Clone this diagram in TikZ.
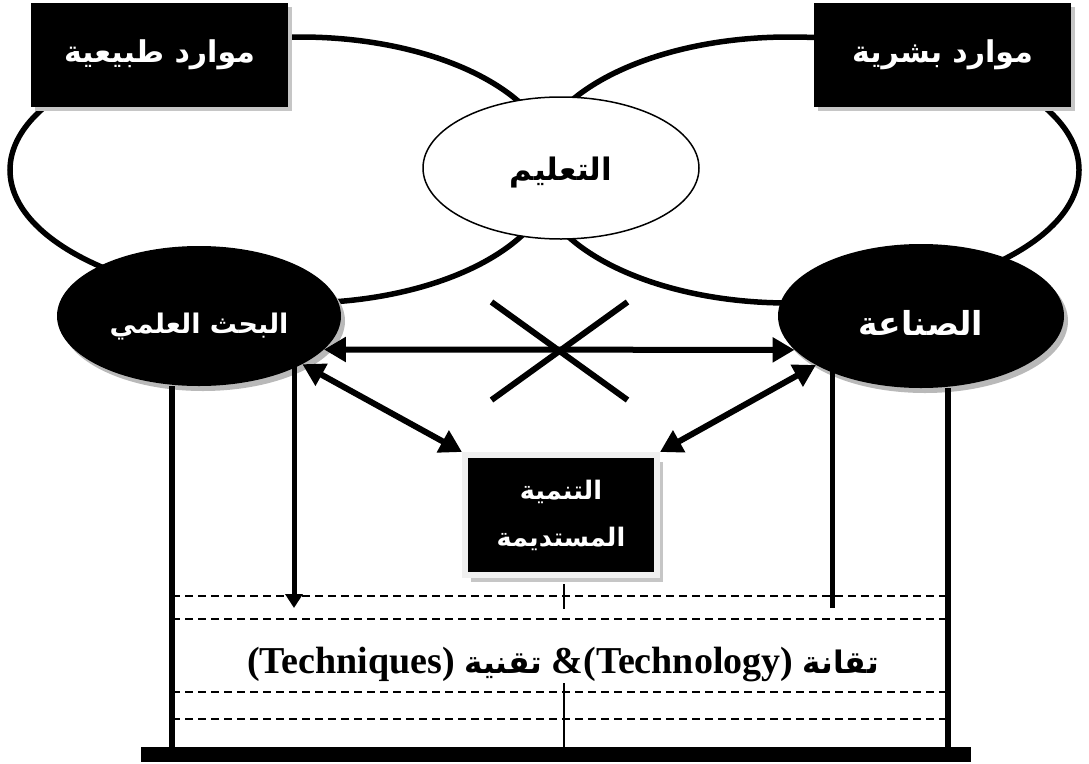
\documentclass[tikz,border=0pt]{standalone}
\usepackage{fontspec}
\setmainfont{Liberation Serif}
\newfontfamily\arfont[Script=Arabic]{DejaVu Sans}
\TeXXeTstate=1
\usetikzlibrary{arrows.meta,shapes.geometric,shadows,calc}

\begin{document}
\begin{tikzpicture}[x=1pt,y=-1pt,
  loopline/.style={line width=5.5pt},
  darkell/.style={ellipse, fill=black, text=white, inner sep=0pt,
    general shadow={fill=gray!55, shadow xshift=4pt, shadow yshift=-5pt}},
  darkbox/.style={rectangle, fill=black, text=white, inner sep=0pt,
    general shadow={fill=gray!45, shadow xshift=4pt, shadow yshift=-4pt}},
  arlabel/.style={font=\arfont\bfseries\fontsize{#1}{#1}\selectfont, align=center},
  arlabel/.default=30,
  biarrow/.style={line width=6pt, {Triangle[length=22pt,width=24pt]}-{Triangle[length=22pt,width=24pt]}},
  onearrow/.style={line width=5pt, -{Triangle[length=14pt,width=17pt]}},
  post/.style={line width=5.5pt},
  crossline/.style={line width=6pt},
  dashline/.style={line width=1.3pt, dash pattern=on 8pt off 5pt},
  hairline/.style={line width=1.2pt}
]
\useasboundingbox (0,0) rectangle (1089,763);

% the two overlapping loops
\draw[loopline] (300,37) arc[start angle=270, end angle=90, x radius=290, y radius=133]
                arc[start angle=90, end angle=-90, x radius=255, y radius=133];
\draw[loopline] (789,37) arc[start angle=270, end angle=450, x radius=290, y radius=133]
                arc[start angle=90, end angle=270, x radius=255, y radius=133];

% centre ellipse
\node[ellipse, draw, line width=1.5pt, fill=white, inner sep=0pt,
      minimum width=276pt, minimum height=142pt, arlabel=31] (edu) at (561,168)
      {\raisebox{-5pt}[\height][\depth]{\beginR التعليم\endR}};

% resource boxes
\node[darkbox, arlabel=30, minimum width=257pt, minimum height=104pt] (natural) at (159.5,55)
      {\beginR موارد طبيعية\endR};
\node[darkbox, arlabel=30, minimum width=257pt, minimum height=104pt] (human) at (942.5,55)
      {\beginR موارد بشرية\endR};

% research and industry
\node[darkell, arlabel=27, minimum width=284pt, minimum height=140pt] (research) at (199,316)
      {\raisebox{-11pt}[\height][\depth]{\beginR البحث العلمي\endR}};
\node[darkell, arlabel=33, minimum width=286pt, minimum height=144pt] (industry) at (921,316)
      {\raisebox{-7pt}[\height][\depth]{\beginR الصناعة\endR}};

% sustainable development box
\node[rectangle, fill=black, draw=gray!12, line width=6pt, text=white, inner sep=0pt,
      minimum width=192pt, minimum height=120pt,
      general shadow={fill=gray!45, shadow xshift=6pt, shadow yshift=-7pt},
      font=\arfont\bfseries\fontsize{25.5}{47}\selectfont, align=center] (dev) at (561,515)
      {\beginR التنمية\endR\\\beginR المستديمة\endR};

% links
\draw[biarrow] (research.-15) -- (industry.195);
\draw[biarrow] (research.-25) -- (dev.north west);
\draw[biarrow] (industry.205) -- (dev.north east);

% crossed-out mark on the direct link
\coordinate (xc) at (559.5,351);
\draw[crossline] ($(xc)+(-68,-49)$) -- ($(xc)+(68,49)$);
\draw[crossline] ($(xc)+(68,-49)$) -- ($(xc)+(-68,49)$);

% base and posts
\node[rectangle, fill=black, inner sep=0pt, minimum width=830pt, minimum height=15pt] (base) at (556,754.5) {};
\coordinate (postL) at (172,747);
\coordinate (postR) at (948,747);
\draw[post] (postL |- research.south) -- (postL);
\draw[post] (postR |- industry.south) -- (postR);

% technology band
\foreach \yy in {596,619,692,719}{
  \draw[dashline] (postL |- 0,\yy) -- (postR |- 0,\yy);
}
\coordinate (tecL) at (294,608);
\coordinate (tecR) at (832,608);
\draw[onearrow] (tecL |- research.-15) -- (tecL);
\draw[onearrow] (tecR) -- (tecR |- industry.195);
\draw[hairline] (dev.south) ++(3,6) -- ++(0,25);
\draw[hairline] ($(dev.south |- 0,683)+(3,0)$) -- ($(dev.south |- base.north)+(3,0)$);

\node[font=\bfseries\fontsize{38}{40}\selectfont, inner sep=0pt] (tech) at (563,664)
  {\beginR{\arfont\fontsize{31}{40}\selectfont تقانة} \beginL\&(Technology)\endL{} {\arfont\fontsize{31}{40}\selectfont تقنية} \beginL(Techniques)\endL\endR};
\end{tikzpicture}
\end{document}
